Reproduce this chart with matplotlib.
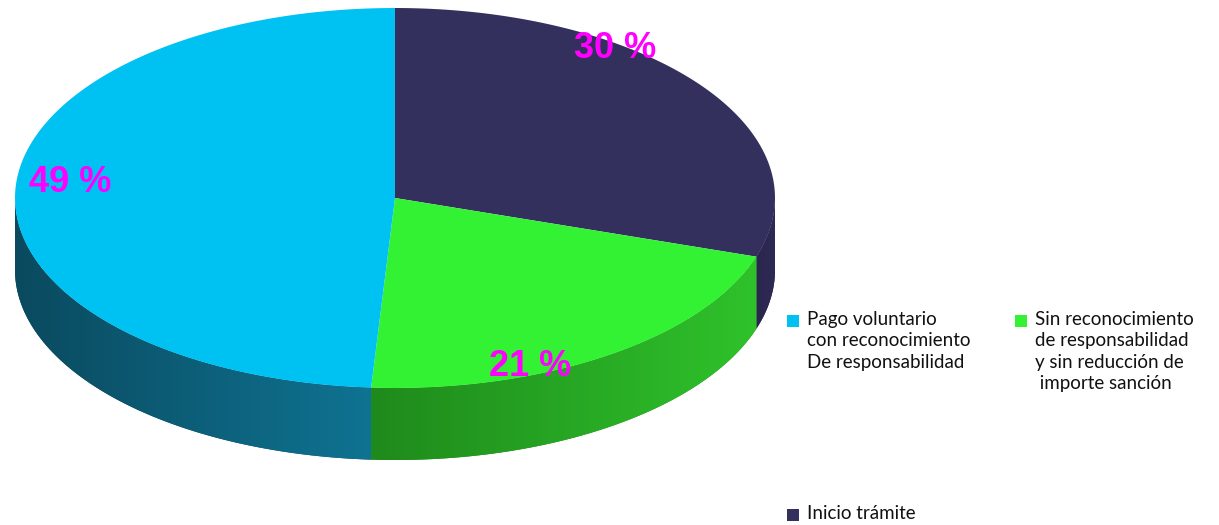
import numpy as np
import matplotlib.pyplot as plt
from matplotlib.patches import Polygon, Rectangle
from matplotlib.colors import LinearSegmentedColormap

# datos del grafico
categorias = ["Pago voluntario\ncon reconocimiento\nDe responsabilidad",
              "Sin reconocimiento\nde responsabilidad\ny sin reducción de\n importe sanción",
              "Inicio trámite"]
porcentajes = [49, 21, 30]
etiquetas = ["49 %", "21 %", "30 %"]
colores = ["#00c2f2", "#33f233", "#33305e"]
lados = [("#0a4a5f", "#0f7392"), ("#1f8a1c", "#2fc22b"), ("#2a264d", "#2e2a55")]

fig = plt.figure(figsize=(12.19, 5.25), dpi=100)
ax = fig.add_axes([0, 0, 1, 1])
ax.set_xlim(0, 1219)
ax.set_ylim(525, 0)
ax.axis("off")

cx, cy, a, b, prof = 395, 198, 380, 190, 72   # elipse superior y profundidad (pixeles)

def punto(t):
    t = np.radians(t)
    return cx + a * np.cos(t), cy - b * np.sin(t)

# angulos de cada porcion: empieza arriba, sentido horario -> 30 %, 21 %, 49 %
orden = [2, 1, 0]
ini = 90.0
rangos = {}
for i in orden:
    fin = ini - porcentajes[i] / 100 * 360
    rangos[i] = (fin, ini)
    ini = fin

# caras laterales (solo la mitad de abajo se ve)
for i in orden:
    t0, t1 = rangos[i]
    lo, hi = max(t0, -180), min(t1, 0)
    if hi <= lo:
        continue
    ts = np.linspace(lo, hi, 120)
    xs, ys = punto(ts)
    pts = np.vstack([np.column_stack([xs, ys]), np.column_stack([xs[::-1], ys[::-1] + prof])])
    poly = Polygon(pts, closed=True, facecolor=lados[i][0], edgecolor="none")
    ax.add_patch(poly)
    cmap = LinearSegmentedColormap.from_list("l%d" % i, lados[i])
    grad = np.linspace(0, 1, 256).reshape(1, -1)
    im = ax.imshow(grad, cmap=cmap, aspect="auto",
                   extent=[xs.min(), xs.max(), ys.max() + prof, ys.min()], zorder=2)
    im.set_clip_path(poly)

# caras superiores
for i in orden:
    t0, t1 = rangos[i]
    ts = np.linspace(t0, t1, 200)
    xs, ys = punto(ts)
    pts = np.vstack([[cx, cy], np.column_stack([xs, ys])])
    ax.add_patch(Polygon(pts, closed=True, facecolor=colores[i], edgecolor="none", zorder=3))

# etiquetas de porcentaje
pos_etq = {2: (615, 48), 0: (70, 182), 1: (530, 367)}
for i in orden:
    x, y = pos_etq[i]
    ax.text(x, y, etiquetas[i], color="#ff00ff", fontsize=26, fontweight="bold",
            family="Liberation Sans", ha="center", va="center", zorder=5)

# leyenda
pos_ley = [(793, 321), (1021, 321), (793, 515)]
for i, (x, y) in enumerate(pos_ley):
    ax.add_patch(Rectangle((x - 6, y - 6), 12, 12, facecolor=colores[i], edgecolor="none", zorder=5))
    ax.text(x + 14, y - 10, categorias[i], fontsize=13.5, family="Lato", color="#111111",
            ha="left", va="top", linespacing=1.32, zorder=5)

fig.savefig("out.png", dpi=100)
